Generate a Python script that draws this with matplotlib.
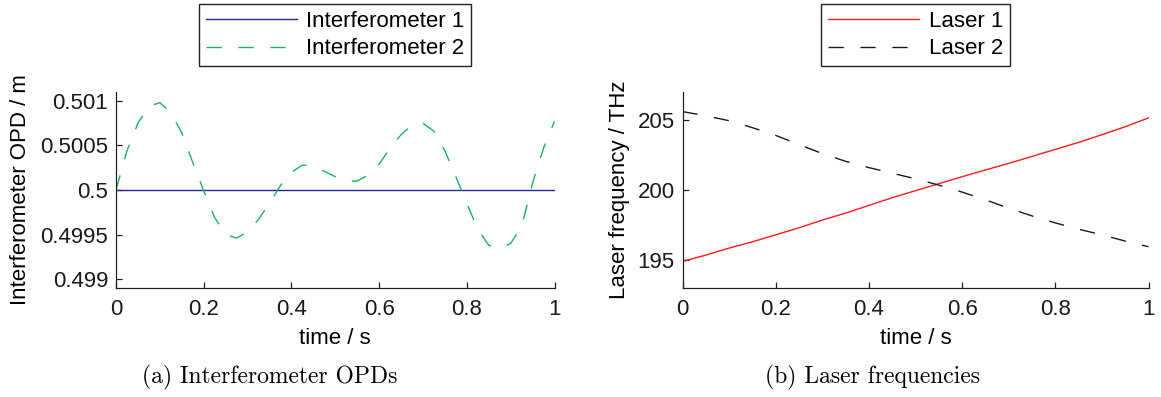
import matplotlib
matplotlib.use("Agg")
import matplotlib.pyplot as plt
from matplotlib.ticker import FormatStrFormatter

# time samples
t = [0.000, 0.025, 0.050, 0.075, 0.100, 0.125, 0.150, 0.175, 0.200, 0.225,
     0.250, 0.275, 0.300, 0.325, 0.350, 0.375, 0.400, 0.425, 0.450, 0.475,
     0.500, 0.525, 0.550, 0.575, 0.600, 0.625, 0.650, 0.675, 0.700, 0.725,
     0.750, 0.775, 0.800, 0.825, 0.850, 0.875, 0.900, 0.925, 0.950, 0.975,
     1.000]

# interferometer OPDs / m
opd_1_t = [0.0, 1.0]
opd_1 = [0.5, 0.5]
opd_2 = [0.50000, 0.50044, 0.50075, 0.50094, 0.50098, 0.50087, 0.50064, 0.50031,
         0.49999, 0.49969, 0.49950, 0.49946, 0.49953, 0.49967, 0.49985, 0.50005,
         0.50020, 0.50028, 0.50027, 0.50021, 0.50015, 0.50010, 0.50010, 0.50017,
         0.50029, 0.50047, 0.50062, 0.50073, 0.50075, 0.50066, 0.50044, 0.50015,
         0.49985, 0.49956, 0.49938, 0.49934, 0.49940, 0.49959, 0.50008, 0.50047,
         0.50077]

# laser frequencies / THz
t_laser = [0.00, 0.05, 0.10, 0.15, 0.20, 0.25, 0.30, 0.35, 0.40, 0.45, 0.50,
           0.55, 0.60, 0.65, 0.70, 0.75, 0.80, 0.85, 0.90, 0.95, 1.00]
laser_1 = [194.9, 195.35, 195.85, 196.3, 196.8, 197.3, 197.85, 198.35, 198.9,
           199.45, 199.95, 200.45, 200.95, 201.43, 201.9, 202.4, 202.9, 203.4,
           203.95, 204.52, 205.15]
laser_2 = [205.6, 205.3, 204.95, 204.45, 203.9, 203.25, 202.6, 202.05, 201.6,
           201.2, 200.8, 200.35, 199.85, 199.3, 198.7, 198.15, 197.65, 197.2,
           196.8, 196.35, 195.95]

x_ticks = [0, 0.2, 0.4, 0.6, 0.8, 1]
opd_ticks = [0.499, 0.4995, 0.5, 0.5005, 0.501]
freq_ticks = [195, 200, 205]

plt.rcParams["font.family"] = ["Liberation Sans", "DejaVu Sans"]
plt.rcParams["font.size"] = 16

W, H = 1161, 397
fig = plt.figure(figsize=(W / 100, H / 100), dpi=100)
ax1 = fig.add_axes([116 / W, 109 / H, 438.5 / W, 196 / H])
ax2 = fig.add_axes([682.5 / W, 109 / H, 466 / W, 196 / H])

dash = (0, (11, 12))
ax1.plot(opd_1_t, opd_1, color="#23239a", lw=1.0, label="Interferometer 1")
ax1.plot(t, opd_2, color="#1eb062", lw=1.0, ls=dash, label="Interferometer 2")
ax1.set(xlim=(0, 1), ylim=(0.4989, 0.5011))
ax1.set_yticks(opd_ticks)
ax1.yaxis.set_major_formatter(FormatStrFormatter("%g"))
ax1.set_ylabel("Interferometer OPD / m")
ax1.yaxis.set_label_coords(-0.194, 0.5)

ax2.plot(t_laser, laser_1, color="#ff1a1a", lw=1.0, label="Laser 1")
ax2.plot(t_laser, laser_2, color="#1a1a1a", lw=1.0, ls=dash, label="Laser 2")
ax2.set(xlim=(0, 1), ylim=(193, 207))
ax2.set_yticks(freq_ticks)
ax2.set_ylabel("Laser frequency / THz")
ax2.yaxis.set_label_coords(-0.113, 0.5)

for ax, cx in ((ax1, 335), (ax2, 915.5)):
    ax.set_xticks(x_ticks)
    ax.xaxis.set_major_formatter(FormatStrFormatter("%g"))
    ax.set_xlabel("time / s")
    ax.xaxis.set_label_coords(0.5, -0.205)
    for s in ("top", "right"):
        ax.spines[s].set_visible(False)
    for s in ("left", "bottom"):
        ax.spines[s].set_color("#222222")
        ax.spines[s].set_linewidth(0.9)
    ax.tick_params(direction="in", length=4, width=0.9, colors="#222222",
                   labelcolor="#1a1a1a")
    ax.tick_params(axis="x", pad=8)
    ax.tick_params(axis="y", pad=5.5)
    leg = ax.legend(loc="upper center", bbox_to_anchor=(cx / W, 1 - 4 / H),
                    bbox_transform=fig.transFigure, fancybox=False, framealpha=1,
                    edgecolor="#222222", handlelength=4.1, handletextpad=0.42,
                    borderpad=0.3, labelspacing=0.3, borderaxespad=0)
    leg.get_frame().set_linewidth(1.0)

fig.text(270 / W, 0.05, "(a) Interferometer OPDs", family="cmr10",
         fontsize=17, ha="center", va="center")
fig.text(872 / W, 0.05, "(b) Laser frequencies", family="cmr10",
         fontsize=17, ha="center", va="center")

fig.savefig("out.png", dpi=100)
